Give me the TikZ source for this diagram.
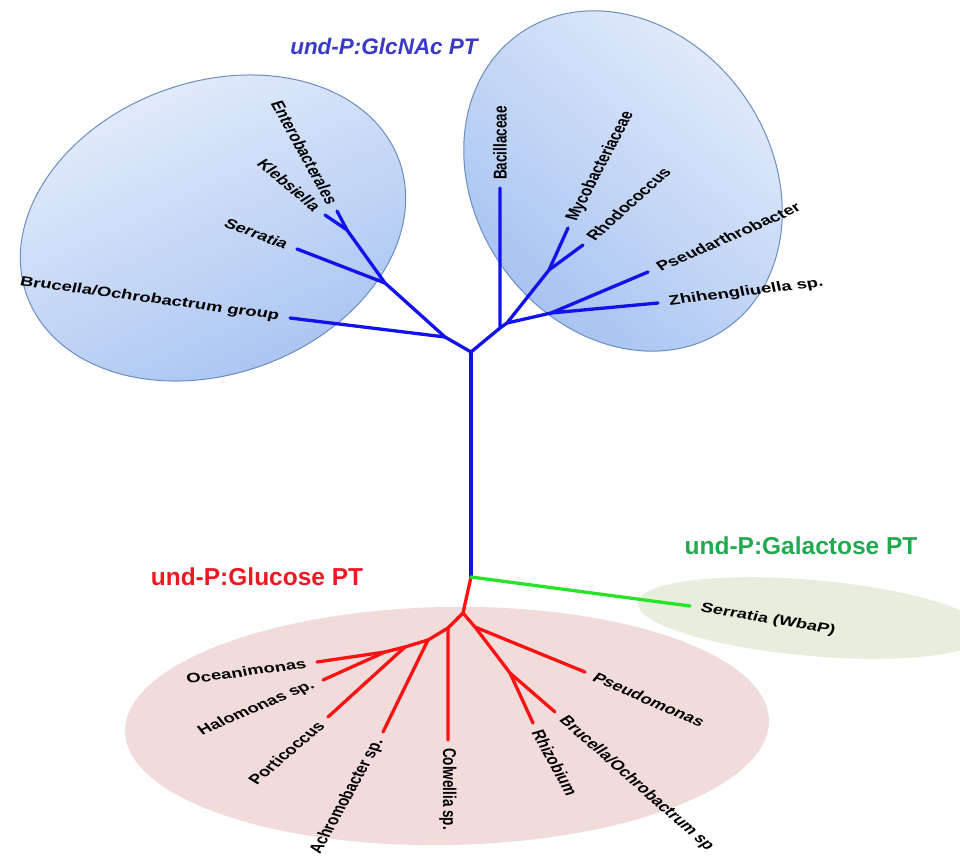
\documentclass[tikz,border=0pt]{standalone}
\usepackage{fontspec}
\setsansfont{Liberation Sans}
\definecolor{treeblue}{RGB}{18,18,235}
\definecolor{treered}{RGB}{252,18,18}
\definecolor{treegreen}{RGB}{40,228,40}
\definecolor{headblue}{RGB}{58,58,200}
\definecolor{headred}{RGB}{236,24,34}
\definecolor{headgreen}{RGB}{34,170,80}
\definecolor{cladelight}{RGB}{228,236,251}
\definecolor{cladedark}{RGB}{164,193,241}
\definecolor{cladeedge}{RGB}{106,142,192}
\definecolor{glcfill}{RGB}{241,219,219}
\definecolor{galfill}{RGB}{232,238,221}

\begin{document}
\begin{tikzpicture}[
  x=1pt, y=-1pt,
  leaf/.style={font=\sffamily\bfseries\fontsize{13.5}{15}\selectfont, xscale=1.37, inner xsep=8pt, inner ysep=1pt},
  head/.style={font=\sffamily\bfseries\fontsize{24.5}{28}\selectfont},
  branch/.style={line width=3.3pt, line cap=round, line join=round},
  clade/.style={draw=cladeedge, line width=1pt, top color=cladelight, bottom color=cladedark}
]
  \useasboundingbox (0,0) rectangle (960,858);

  % group backgrounds
  \path[clade, shading angle=25, rotate around={20:(213,228)}] (213,228) ellipse [x radius=198, y radius=146];
  \path[clade, shading angle=-40, rotate around={-55:(623,181)}] (623,181) ellipse [x radius=180, y radius=148];
  \fill[glcfill, rotate around={1:(447,726)}] (447,726) ellipse [x radius=322, y radius=119];
  \fill[galfill, rotate around={-5:(812,618)}] (812,618) ellipse [x radius=175, y radius=38];

  % headings
  \node[head, headblue, font=\sffamily\bfseries\fontsize{22.5}{26}\selectfont] (hglcnac) at (384,46) {\itshape und-P:GlcNAc PT};
  \node[head, headred] (hglc) at (257,577) {und-P:Glucose PT};
  \node[head, headgreen] (hgal) at (801,546) {und-P:Galactose PT};

  % inner nodes
  \coordinate (hub) at (471,352);
  \coordinate (base) at (471,577);
  \coordinate (gl1) at (445,337);
  \coordinate (gl2) at (385,283);
  \coordinate (gl3) at (347,230);
  \coordinate (gr1) at (500,328);
  \coordinate (gr2) at (507,323);
  \coordinate (gr3) at (549,270);
  \coordinate (gr4) at (551,313);
  \coordinate (r1) at (463,613);
  \coordinate (r2) at (448,628);
  \coordinate (r3) at (428,640);
  \coordinate (r4) at (405,647);
  \coordinate (r5) at (385,652);
  \coordinate (r6) at (475,627);
  \coordinate (r7) at (510,673);

  % leaves
  \node[leaf, anchor=east, rotate=-10.4] (bruG) at (290,318) {Brucella/Ochrobactrum group};
  \node[leaf, anchor=east, rotate=-27.7] (serr) at (297,249) {Serratia};
  \node[leaf, anchor=east, rotate=-49] (kleb) at (325,215) {Klebsiella};
  \node[leaf, anchor=east, rotate=-68] (ente) at (337,211) {Enterobacterales};
  \node[leaf, anchor=west, rotate=90] (baci) at (500,188) {Bacillaceae};
  \node[leaf, anchor=west, rotate=69] (myco) at (568,228) {Mycobacteriaceae};
  \node[leaf, anchor=west, rotate=51] (rhod) at (583,245) {Rhodococcus};
  \node[leaf, anchor=west, rotate=30.9] (pseA) at (648,272) {Pseudarthrobacter};
  \node[leaf, anchor=west, rotate=9.5] (zhih) at (658,303) {Zhihengliuella sp.};
  \node[leaf, anchor=west, rotate=-90] (colw) at (448,740) {Colwellia sp.};
  \node[leaf, anchor=east, rotate=68] (achr) at (383,732) {Achromobacter sp.};
  \node[leaf, anchor=east, rotate=49.5] (port) at (328,717) {Porticoccus};
  \node[leaf, anchor=east, rotate=10.2] (ocea) at (317,662) {Oceanimonas};
  \node[leaf, anchor=east, rotate=30.2] (halo) at (323,680) {Halomonas sp.};
  \node[leaf, anchor=west, rotate=-30.8] (pseu) at (585,672) {Pseudomonas};
  \node[leaf, anchor=west, rotate=-68] (rhiz) at (533,723) {Rhizobium};
  \node[leaf, anchor=west, rotate=-50.3] (bruS) at (555,712) {Brucella/Ochrobactrum sp};
  \node[leaf, anchor=west, rotate=-13.4] (serW) at (690,606) {Serratia (WbaP)};

  % GlcNAc clade
  \begin{scope}[branch, treeblue]
    \draw (base) -- (hub);
    \draw (hub) -- (gl1) -- (gl2) -- (gl3);
    \draw (gl1) -- (bruG.east);
    \draw (gl2) -- (serr.east);
    \draw (gl3) -- (kleb.east);
    \draw (gl3) -- (ente.east);
    \draw (hub) -- (gr1) -- (baci.west);
    \draw (gr1) -- (gr2) -- (gr3) -- (myco.west);
    \draw (gr3) -- (rhod.west);
    \draw (gr2) -- (gr4) -- (pseA.west);
    \draw (gr4) -- (zhih.west);
  \end{scope}

  % Glucose clade
  \begin{scope}[branch, treered]
    \draw (base) -- (r1) -- (r2) -- (colw.west);
    \draw (r2) -- (r3) -- (achr.east);
    \draw (r3) -- (r4) -- (port.east);
    \draw (r4) -- (r5) -- (ocea.east);
    \draw (r5) -- (halo.east);
    \draw (r1) -- (r6) -- (pseu.west);
    \draw (r6) -- (r7) -- (rhiz.west);
    \draw (r7) -- (bruS.west);
  \end{scope}

  % Galactose clade
  \draw[branch, treegreen] (base) -- (serW.west);
\end{tikzpicture}
\end{document}
